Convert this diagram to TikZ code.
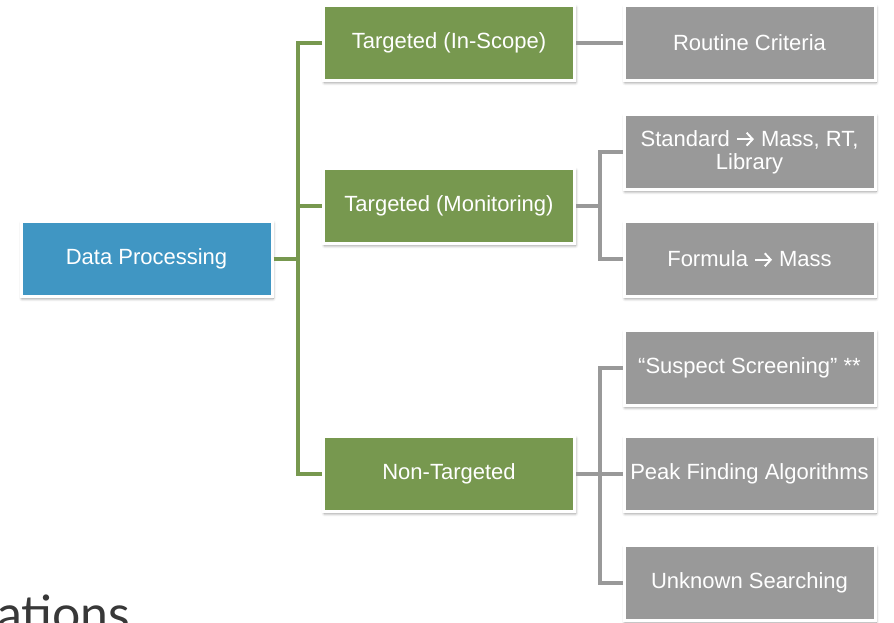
\documentclass[tikz,border=0pt]{standalone}
\usepackage{fontspec}
\setmainfont{Liberation Sans}
\newfontfamily\slidefont{Lato}
\usetikzlibrary{shadows.blur,arrows.meta}
\definecolor{procblue}{HTML}{4096C3}
\definecolor{catgreen}{HTML}{77984F}
\definecolor{leafgray}{HTML}{999999}
\definecolor{slidetext}{HTML}{383838}
\newcommand{\toarrow}{\tikz[baseline={(0pt,-7pt)}, x=1pt, y=1pt]
  \draw[white, line width=1.9pt, -{Straight Barb[length=6pt, width=13pt]}] (0,0) -- (17,0);}
\tikzset{
  box/.style={draw=white, line width=3pt, minimum width=251pt, minimum height=75pt,
    inner sep=2pt, text=white, align=center, font=\fontsize{22}{23}\selectfont,
    blur shadow={shadow xshift=1pt, shadow yshift=-2pt, shadow blur radius=3pt,
      shadow blur steps=6, shadow opacity=45}},
  rootbox/.style={box, fill=procblue},
  catbox/.style={box, fill=catgreen},
  leafbox/.style={box, fill=leafgray},
  greenline/.style={draw=catgreen, line width=3.2pt},
  grayline/.style={draw=leafgray, line width=3.2pt}
}
\begin{document}
\begin{tikzpicture}[x=1pt, y=-1pt]
\path[use as bounding box, clip] (0,0) rectangle (894,622);
% slide title, cut off by the frame
\node[anchor=base west, inner sep=0pt, text=slidetext, font=\slidefont\fontsize{50}{54}\selectfont] (title) at (-3,631) {ations};
% boxes
\node[rootbox] (proc) at (146.5,259) {Data Processing};
\node[catbox] (inscope) at (449,43) {Targeted (In-Scope)};
\node[catbox] (monitor) at (449,206) {Targeted (Monitoring)};
\node[catbox] (nontarget) at (449,474) {Non-Targeted};
\node[leafbox] (routine) at (749.5,43) {Routine Criteria};
\node[leafbox] (standard) at (749.5,152) {Standard \toarrow{} Mass, RT,\\Library};
\node[leafbox] (formula) at (749.5,259) {Formula \toarrow{} Mass};
\node[leafbox] (suspect) at (749.5,368) {“Suspect Screening” **};
\node[leafbox] (peak) at (749.5,474) {Peak Finding Algorithms};
\node[leafbox] (unknown) at (749.5,583) {Unknown Searching};
% connectors
\coordinate (gsplit) at (298,259);
\coordinate (msplit) at (600,206);
\coordinate (nsplit) at (600,474);
\draw[greenline] (proc.east) -- (gsplit);
\draw[greenline] (inscope.west) -| (gsplit) |- (nontarget.west);
\draw[greenline] (gsplit) |- (monitor.west);
\draw[grayline] (inscope.east) -- (routine.west);
\draw[grayline] (monitor.east) -- (msplit);
\draw[grayline] (standard.west) -| (msplit) |- (formula.west);
\draw[grayline] (nontarget.east) -- (nsplit);
\draw[grayline] (suspect.west) -| (nsplit) |- (unknown.west);
\draw[grayline] (nsplit) -- (peak.west);
\end{tikzpicture}
\end{document}
